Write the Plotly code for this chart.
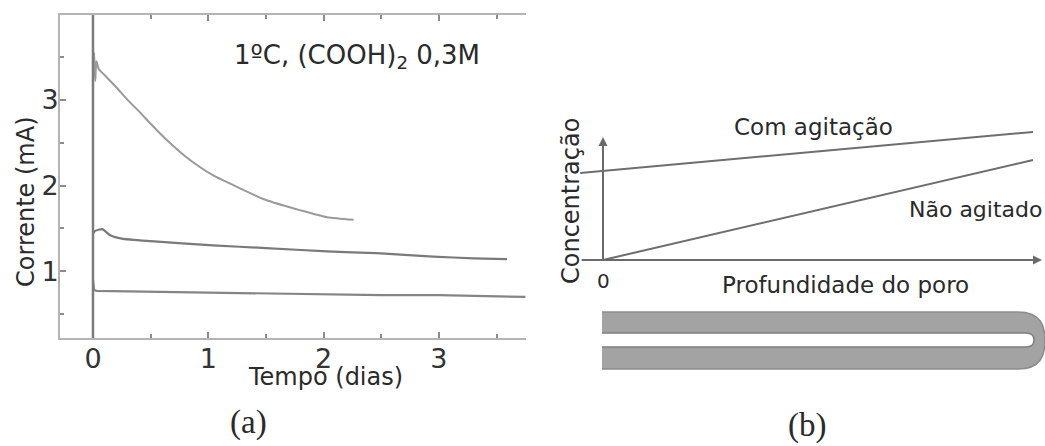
import plotly.graph_objects as go

W, H = 1045, 446

# ---------------- data: panel (a) ----------------
t_top = [0.0, 0.01, 0.02, 0.03, 0.05, 0.1, 0.2, 0.3, 0.41, 0.5, 0.64, 0.81, 1.04, 1.27, 1.5, 1.8, 2.03, 2.26]
i_top = [3.2, 3.55, 3.22, 3.45, 3.36, 3.29, 3.15, 3.0, 2.85, 2.72, 2.53, 2.33, 2.12, 1.97, 1.83, 1.71, 1.63, 1.60]

t_mid = [0.0, 0.02, 0.08, 0.15, 0.25, 0.5, 1.04, 1.5, 2.03, 2.46, 2.95, 3.3, 3.59]
i_mid = [1.44, 1.47, 1.49, 1.42, 1.38, 1.35, 1.30, 1.27, 1.23, 1.21, 1.17, 1.15, 1.14]

t_low = [0.0, 0.01, 0.03, 0.5, 1.0, 1.5, 2.0, 2.5, 3.0, 3.5, 3.75]
i_low = [0.90, 0.78, 0.77, 0.76, 0.75, 0.74, 0.73, 0.72, 0.72, 0.71, 0.70]

t_start = 0.0
x_ticks = [0, 1, 2, 3]
x_minor = [0.5, 1.5, 2.5, 3.5]
y_ticks = [1, 2, 3]
y_minor = [0.5, 1.5, 2.5, 3.5]

# ---------------- data: panel (b) ----------------
depth_com = [-0.053, 1.0]
conc_com = [0.87, 1.28]
depth_nao = [0.0, 1.0]
conc_nao = [0.0, 1.0]

FONT = "DejaVu Sans"
SERIF = "Liberation Serif, DejaVu Serif"
TXT = "#2a2a2a"


def px(x):
    return x / W


def py(y):
    return (H - y) / H


fig = go.Figure()

fig.add_trace(go.Scatter(x=t_top, y=i_top, mode="lines",
                         line=dict(color="#9a9a9a", width=2, shape="spline", smoothing=0.6),
                         xaxis="x", yaxis="y", hoverinfo="skip"))
fig.add_trace(go.Scatter(x=t_mid, y=i_mid, mode="lines",
                         line=dict(color="#7a7a7a", width=2.2, shape="spline", smoothing=0.5),
                         xaxis="x", yaxis="y", hoverinfo="skip"))
fig.add_trace(go.Scatter(x=t_low, y=i_low, mode="lines", line=dict(color="#858585", width=2.2),
                         xaxis="x", yaxis="y", hoverinfo="skip"))

fig.add_trace(go.Scatter(x=depth_com, y=conc_com, mode="lines", line=dict(color="#6e6e6e", width=2),
                         xaxis="x2", yaxis="y2", hoverinfo="skip"))
fig.add_trace(go.Scatter(x=depth_nao, y=conc_nao, mode="lines", line=dict(color="#6e6e6e", width=2),
                         xaxis="x2", yaxis="y2", hoverinfo="skip"))

axis_common = dict(showgrid=False, zeroline=False, showline=True, linecolor="#b4b4b4", linewidth=2,
                   ticks="inside", ticklen=6, tickwidth=2, tickcolor="#8c8c8c",
                   tickfont=dict(family=FONT, size=27, color="#333"))

shapes = []
# vertical line at t = 0
shapes.append(dict(type="line", xref="x", yref="y domain", x0=t_start, x1=t_start, y0=0, y1=1,
                   line=dict(color="#7c7c7c", width=2.5)))

outer = (f"M {px(602)},{py(312)} L {px(1018)},{py(312)} "
         f"C {px(1041)},{py(312)} {px(1045)},{py(326)} {px(1045)},{py(340.5)} "
         f"C {px(1045)},{py(355)} {px(1041)},{py(369)} {px(1018)},{py(369)} "
         f"L {px(602)},{py(369)}")
shapes.append(dict(type="path", xref="paper", yref="paper", path=outer + " Z",
                   fillcolor="#a3a3a3", line=dict(width=0)))
shapes.append(dict(type="path", xref="paper", yref="paper", path=outer,
                   fillcolor="rgba(0,0,0,0)", line=dict(color="#8c8c8c", width=1.5)))
inner = (f"M {px(602)},{py(333)} L {px(1026)},{py(333)} "
         f"C {px(1033)},{py(333)} {px(1034)},{py(337)} {px(1034)},{py(340)} "
         f"C {px(1034)},{py(343)} {px(1033)},{py(347)} {px(1026)},{py(347)} "
         f"L {px(602)},{py(347)}")
shapes.append(dict(type="path", xref="paper", yref="paper", path=inner + " Z",
                   fillcolor="#ffffff", line=dict(width=0)))
shapes.append(dict(type="path", xref="paper", yref="paper", path=inner,
                   fillcolor="rgba(0,0,0,0)", line=dict(color="#7e7e7e", width=1.5)))

annotations = []


def label(text, x, y, size, angle=0, family=FONT, xanchor="center"):
    annotations.append(dict(text=text, x=px(x), y=py(y), xref="paper", yref="paper",
                            showarrow=False, textangle=angle, xanchor=xanchor, yanchor="middle",
                            font=dict(family=family, size=size, color=TXT)))


label("Corrente (mA)", 26, 202, 24, angle=-90)
label("Tempo (dias)", 325, 377, 24)
label("1ºC, (COOH)<sub>2</sub> 0,3M", 357, 56, 26)
label("(a)", 248, 422, 33, family=SERIF)
label("(b)", 807, 425, 33, family=SERIF)
label("Com agitação", 813, 127, 23)
label("Não agitado", 1044, 209, 22, xanchor="right")
label("Profundidade do poro", 845, 285, 23)
label("Concentração", 571, 201, 24, angle=-90)
label("0", 603, 281, 20)

# axes arrows of panel (b)
annotations.append(dict(x=1.021, y=0, ax=-0.053, ay=0, xref="x2", yref="y2", axref="x2", ayref="y2",
                        showarrow=True, arrowhead=2, arrowsize=0.9, arrowwidth=2, arrowcolor="#6a6a6a", text=""))
annotations.append(dict(x=0, y=1.23, ax=0, ay=-0.02, xref="x2", yref="y2", axref="x2", ayref="y2",
                        showarrow=True, arrowhead=2, arrowsize=0.9, arrowwidth=2, arrowcolor="#6a6a6a", text=""))

fig.update_layout(
    width=W, height=H,
    margin=dict(l=0, r=0, t=0, b=0),
    paper_bgcolor="white", plot_bgcolor="white",
    showlegend=False,
    xaxis=dict(domain=[px(60), px(526)], range=[-0.286, 3.755], anchor="y",
               tickvals=x_ticks, ticktext=[str(v) for v in x_ticks], mirror="ticks",
               minor=dict(tickvals=x_minor, ticks="inside", ticklen=4, tickwidth=2, tickcolor="#8c8c8c"),
               ticklabelstandoff=-4, **axis_common),
    yaxis=dict(domain=[py(338), py(15)], range=[0.22, 3.99], anchor="x",
               tickvals=y_ticks, ticktext=[str(v) for v in y_ticks], mirror=False,
               minor=dict(tickvals=y_minor, ticks="inside", ticklen=4, tickwidth=2, tickcolor="#8c8c8c"),
               ticklabelstandoff=-6, **axis_common),
    xaxis2=dict(domain=[px(560), 1.0], range=[(560 - 603) / 430, (1045 - 603) / 430], anchor="y2",
                visible=False, fixedrange=True),
    yaxis2=dict(domain=[py(380), py(100)], range=[-1.2, 1.6], anchor="x2",
                visible=False, fixedrange=True),
    shapes=shapes,
    annotations=annotations,
)

fig.write_html("out.html")
